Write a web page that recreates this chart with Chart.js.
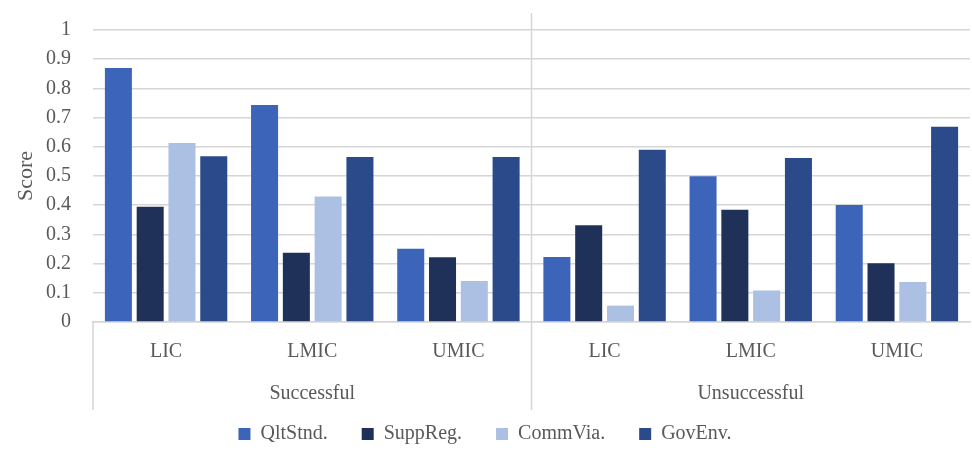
<!DOCTYPE html>
<html>
<head>
<meta charset="utf-8">
<script src="https://cdn.jsdelivr.net/npm/chart.js@4/dist/chart.umd.min.js"></script>
<style>
  html, body { margin: 0; padding: 0; background: #fff; }
  #wrap { width: 972px; height: 454px; }
</style>
</head>
<body>
<div id="wrap"><canvas id="scoreChart" width="972" height="454"></canvas></div>
<script>
// Income groups, split by outcome
const incomeLabels = ['LIC', 'LMIC', 'UMIC', 'LIC', 'LMIC', 'UMIC'];
const outcomeGroups = ['Successful', 'Unsuccessful'];
const groupSize = 3;

const seriesNames = ['QltStnd.', 'SuppReg.', 'CommVia.', 'GovEnv.'];
const seriesColors = ['#3C65B9', '#1F3159', '#ABC0E3', '#2A4A8A'];

const qltStnd  = [0.87, 0.743, 0.251, 0.223, 0.499, 0.401];
const suppReg  = [0.395, 0.237, 0.222, 0.331, 0.384, 0.201];
const commVia  = [0.613, 0.43, 0.14, 0.056, 0.108, 0.137];
const govEnv   = [0.568, 0.565, 0.565, 0.59, 0.562, 0.669];

const yTicks = { min: 0, max: 1, step: 0.1 };

const FONT = '"Liberation Serif", "Times New Roman", serif';
const TEXT = '#595959';
const LINE = '#d6d6d6';

Chart.defaults.font.family = FONT;
Chart.defaults.color = TEXT;

// Group captions under the category labels plus the divider lines
const groupAxisPlugin = {
  id: 'groupAxis',
  afterDraw(chart) {
    const { ctx, chartArea, scales: { x } } = chart;
    const bottom = 410;
    ctx.save();
    ctx.strokeStyle = LINE;
    ctx.lineWidth = 1.5;

    // left edge of the category axis
    ctx.beginPath();
    ctx.moveTo(chartArea.left, chartArea.bottom);
    ctx.lineTo(chartArea.left, bottom);
    ctx.stroke();

    // dividers between outcome groups
    for (let g = 1; g < outcomeGroups.length; g++) {
      const i = g * groupSize;
      const px = (x.getPixelForValue(i - 1) + x.getPixelForValue(i)) / 2;
      ctx.beginPath();
      ctx.moveTo(px, 13);
      ctx.lineTo(px, bottom);
      ctx.stroke();
    }

    ctx.fillStyle = TEXT;
    ctx.font = '20px ' + FONT;
    ctx.textAlign = 'center';
    ctx.textBaseline = 'middle';
    outcomeGroups.forEach((name, g) => {
      const first = x.getPixelForValue(g * groupSize);
      const last = x.getPixelForValue(g * groupSize + groupSize - 1);
      ctx.fillText(name, (first + last) / 2, 394);
    });
    ctx.restore();
  }
};

const seriesData = [qltStnd, suppReg, commVia, govEnv];

new Chart(document.getElementById('scoreChart').getContext('2d'), {
  type: 'bar',
  data: {
    labels: incomeLabels,
    datasets: seriesNames.map((name, i) => ({
      label: name,
      data: seriesData[i],
      backgroundColor: seriesColors[i],
      borderWidth: 0,
      categoryPercentage: 0.87,
      barPercentage: 0.85
    }))
  },
  options: {
    responsive: false,
    animation: false,
    layout: { padding: { top: 30, right: 2, left: 0, bottom: 0 } },
    plugins: {
      legend: {
        position: 'bottom',
        labels: {
          boxWidth: 12, boxHeight: 12, padding: 34,
          font: { size: 20 }, color: TEXT
        }
      },
      tooltip: { enabled: false }
    },
    scales: {
      x: {
        grid: { display: false },
        border: { display: true, color: LINE, width: 1.5 },
        ticks: { padding: 10, font: { size: 20 }, color: TEXT },
        afterFit: s => { s.height = 68; s.paddingLeft = 0; s.paddingRight = 0; }
      },
      y: {
        min: yTicks.min, max: yTicks.max,
        grid: { color: LINE, lineWidth: 1.5, drawTicks: false },
        border: { display: false },
        ticks: {
          stepSize: yTicks.step, padding: 22, autoSkip: false,
          font: { size: 20 }, color: TEXT,
          callback: v => String(+v.toFixed(1))
        },
        title: {
          display: true, text: 'Score',
          font: { size: 22 }, color: TEXT,
          padding: { top: 13, bottom: 0 }
        },
        afterFit: s => { s.width = 93; s.paddingTop = 0; s.paddingBottom = 0; }
      }
    }
  },
  plugins: [groupAxisPlugin]
});
</script>
</body>
</html>
